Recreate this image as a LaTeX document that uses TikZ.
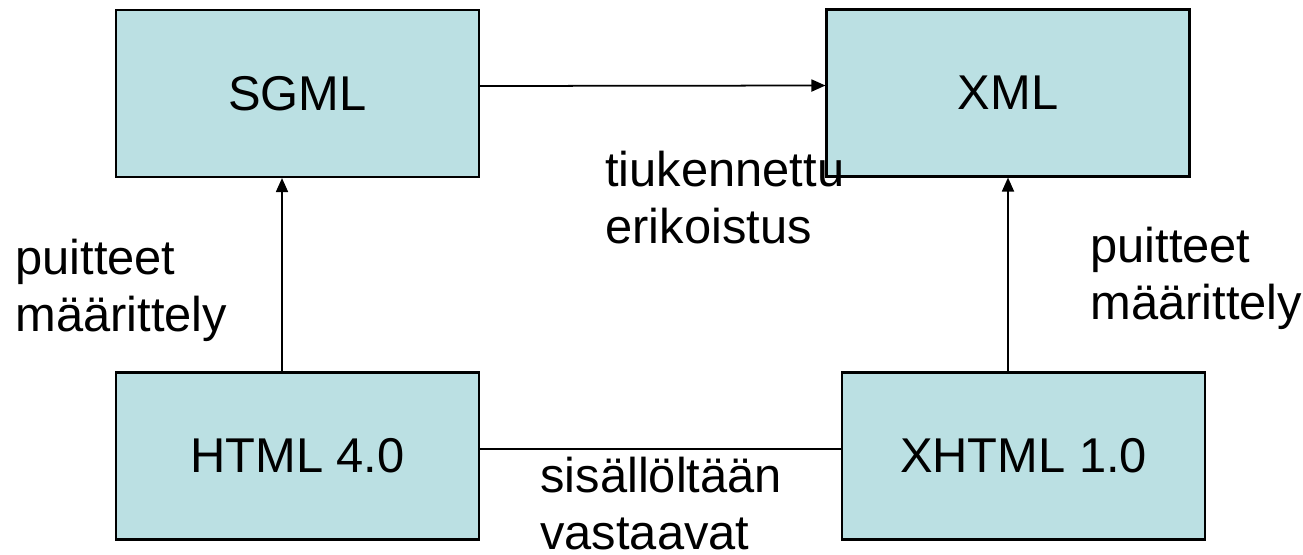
\documentclass[tikz,border=0pt]{standalone}
\usepackage{fontspec}
\setmainfont{Liberation Sans}
\usetikzlibrary{arrows.meta}
\definecolor{boxblue}{RGB}{187,224,227}
\begin{document}
\begin{tikzpicture}[x=0.02cm,y=-0.02cm,
    every node/.style={font=\fontsize{27.8}{31.9}\selectfont},
    langbox/.style={draw,line width=1.2pt,fill=boxblue,minimum width=7.26cm,minimum height=3.34cm},
    label/.style={inner sep=0pt,align=left,anchor=base west},
    link/.style={line width=1pt,-{Triangle[length=0.28cm,width=0.24cm]}}]
 		\useasboundingbox (0,0) rectangle (1303,555);
 		\node[langbox] (sgml)  at (297.5,93.5) {SGML};
 		\node[langbox] (xml)   at (1008,93)    {XML};
 		\node[langbox] (html)  at (297.5,456)  {HTML 4.0};
 		\node[langbox] (xhtml) at (1023.5,456) {XHTML 1.0};
 		
 		\draw[link] ([yshift=0.15cm]sgml.east) -- ([yshift=0.15cm]xml.west);
 		\draw[link] ([xshift=-0.31cm]html.north) -- ([xshift=-0.31cm]sgml.south);
 		\draw[link] (xhtml.north -| xml.south) -- (xml.south);
 		\draw[line width=1pt] ([yshift=0.14cm]html.east) -- ([yshift=0.14cm]xhtml.west);
 		
 		\node[label] (tiuk) at (605,243)  {tiukennettu\\erikoistus};
 		\node[label] (puil) at (15,331)   {puitteet\\määrittely};
 		\node[label] (puir) at (1090,319) {puitteet\\määrittely};
 		\node[label] (sisa) at (540,549)  {sisällöltään\\vastaavat};
 	\end{tikzpicture}
\end{document}
